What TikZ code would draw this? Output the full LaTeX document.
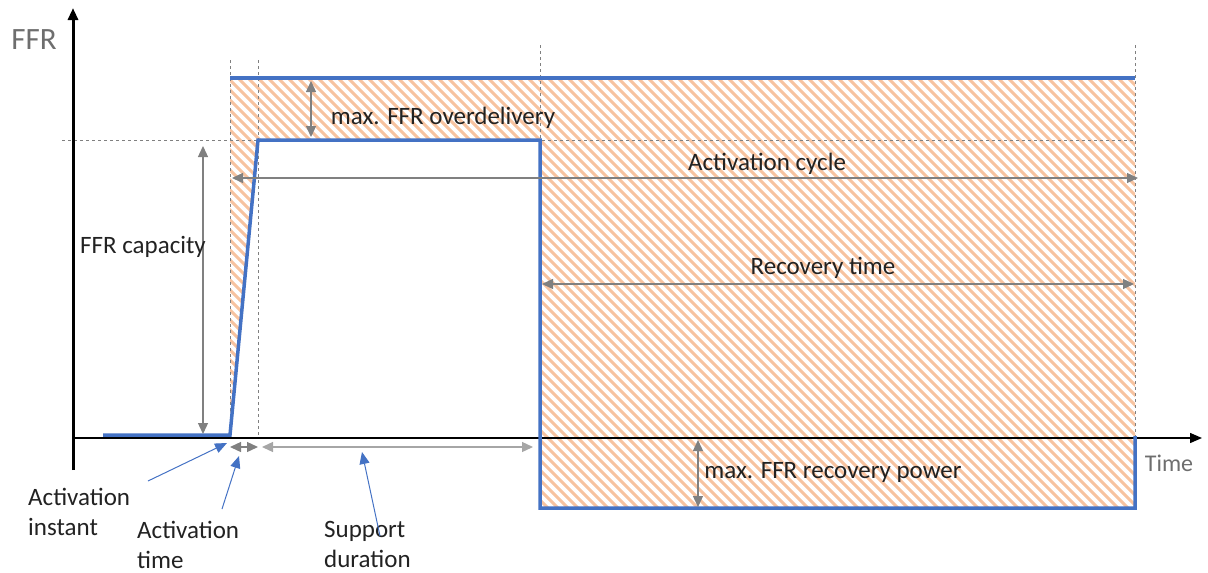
\documentclass[tikz,border=0pt]{standalone}
\usepackage{fontspec}
\setmainfont{Carlito}
\usetikzlibrary{arrows.meta}
\definecolor{ffrblue}{HTML}{4472C4}
\definecolor{hatchor}{HTML}{F7C3A0}
\definecolor{dimgr}{HTML}{808080}
\definecolor{lbl}{HTML}{222222}
\definecolor{axlbl}{HTML}{6E6E6E}
\begin{document}
\begin{tikzpicture}[x=1pt,y=-1pt,
  txt/.style={inner sep=0pt,text=lbl,font=\fontsize{25}{30}\selectfont},
  guide/.style={draw=dimgr,line width=0.9pt,dash pattern=on 3pt off 3pt},
  dim/.style={draw=dimgr,line width=1.3pt,{Triangle[length=11pt,width=10pt]}-{Triangle[length=11pt,width=10pt]}},
  curve/.style={draw=ffrblue,line width=3.5pt,line join=miter},
  pointer/.style={draw=ffrblue,line width=1pt,-{Triangle[length=12pt,width=10pt]}},
  axis/.style={draw=black,-{Triangle[length=12pt,width=10pt]}}]
\useasboundingbox (0,0) rectangle (1208,573);
% hatched region
\begin{scope}
  \clip (230,78) -- (1135,78) -- (1135,508) -- (540,508) -- (540,140) -- (258,140) -- (230,436) -- cycle;
  \foreach \i in {-500,-490,...,1140} {
    \draw[hatchor,line width=3pt] (\i,60) -- (\i+500,560);
  }
\end{scope}
% guides
\coordinate (g1t) at (230,60); \coordinate (g1b) at (230,438);
\coordinate (g2t) at (258,60); \coordinate (g2b) at (258,438);
\coordinate (g3t) at (540,45); \coordinate (g3b) at (540,140);
\coordinate (g4t) at (1135,45); \coordinate (g4b) at (1135,438);
\coordinate (hl) at (62,140); \coordinate (hr) at (1135,140);
\draw[guide] (g1t) -- (g1b);
\draw[guide] (g2t) -- (g2b);
\draw[guide] (g3t) -- (g3b);
\draw[guide] (g4t) -- (g4b);
\draw[guide] (hl) -- (hr);
% axes
\coordinate (o) at (73,470); \coordinate (ytop) at (73,8);
\coordinate (xl) at (73,438); \coordinate (xr) at (1202,438);
\draw[axis,line width=3pt] (o) -- (ytop);
\draw[axis,line width=1.4pt] (xl) -- (xr);
% FFR curve
\coordinate (c0) at (103,435); \coordinate (c1) at (230,435);
\coordinate (c2) at (258,140); \coordinate (c3) at (540,140);
\coordinate (c4) at (540,508); \coordinate (c5) at (1135,508);
\coordinate (c6) at (1135,436);
\draw[curve] (c0) -- (c1) -- (c2) -- (c3) -- (c4) -- (c5) -- (c6);
\coordinate (t0) at (230,78); \coordinate (t1) at (1135,78);
\draw[curve] (t0) -- (t1);
% dimension arrows
\coordinate (capT) at (203,146); \coordinate (capB) at (203,434);
\draw[dim] (capT) -- (capB);
\coordinate (odT) at (311,81); \coordinate (odB) at (311,137);
\draw[dim] (odT) -- (odB);
\coordinate (acL) at (232,178); \coordinate (acR) at (1138,178);
\draw[dim] (acL) -- (acR);
\coordinate (rtL) at (542,284); \coordinate (rtR) at (1134,284);
\draw[dim] (rtL) -- (rtR);
\coordinate (rpT) at (698,440); \coordinate (rpB) at (698,507);
\draw[dim] (rpT) -- (rpB);
\coordinate (atL) at (230,447); \coordinate (atR) at (258,447);
\draw[dim] (atL) -- (atR);
\coordinate (sdL) at (262,447); \coordinate (sdR) at (533,447);
\draw[dim,draw=dimgr!70] (sdL) -- (sdR);
% labels
\node[inner sep=0pt,text=axlbl,font=\fontsize{31}{36}\selectfont] (ffr) at (34,40) {FFR};
\node[inner sep=0pt,text=axlbl,font=\fontsize{24}{28}\selectfont] (time) at (1169,463) {Time};
\node[txt] (cap) at (143,247) {FFR capacity};
\node[txt] (od) at (443,118) {max. FFR overdelivery};
\node[txt] (ac) at (767,164) {Activation cycle};
\node[txt] (rt) at (823,268) {Recovery time};
\node[txt] (rp) at (833,472) {max. FFR recovery power};
\node[txt,align=left,anchor=north west] (ai) at (28,488) {Activation\\instant};
\node[txt,align=left,anchor=north west] (at) at (137,521) {Activation\\time};
\node[txt,align=left,anchor=north west] (sd) at (324,521) {Support\\duration};
% pointers
\coordinate (aiS) at (148,481); \coordinate (aiE) at (227,443);
\coordinate (atS) at (222,509); \coordinate (atE) at (239,456);
\coordinate (sdS) at (380,536); \coordinate (sdE) at (362,452);
\draw[pointer] (aiS) -- (aiE);
\draw[pointer] (atS) -- (atE);
\draw[pointer] (sdS) -- (sdE);
\end{tikzpicture}
\end{document}
